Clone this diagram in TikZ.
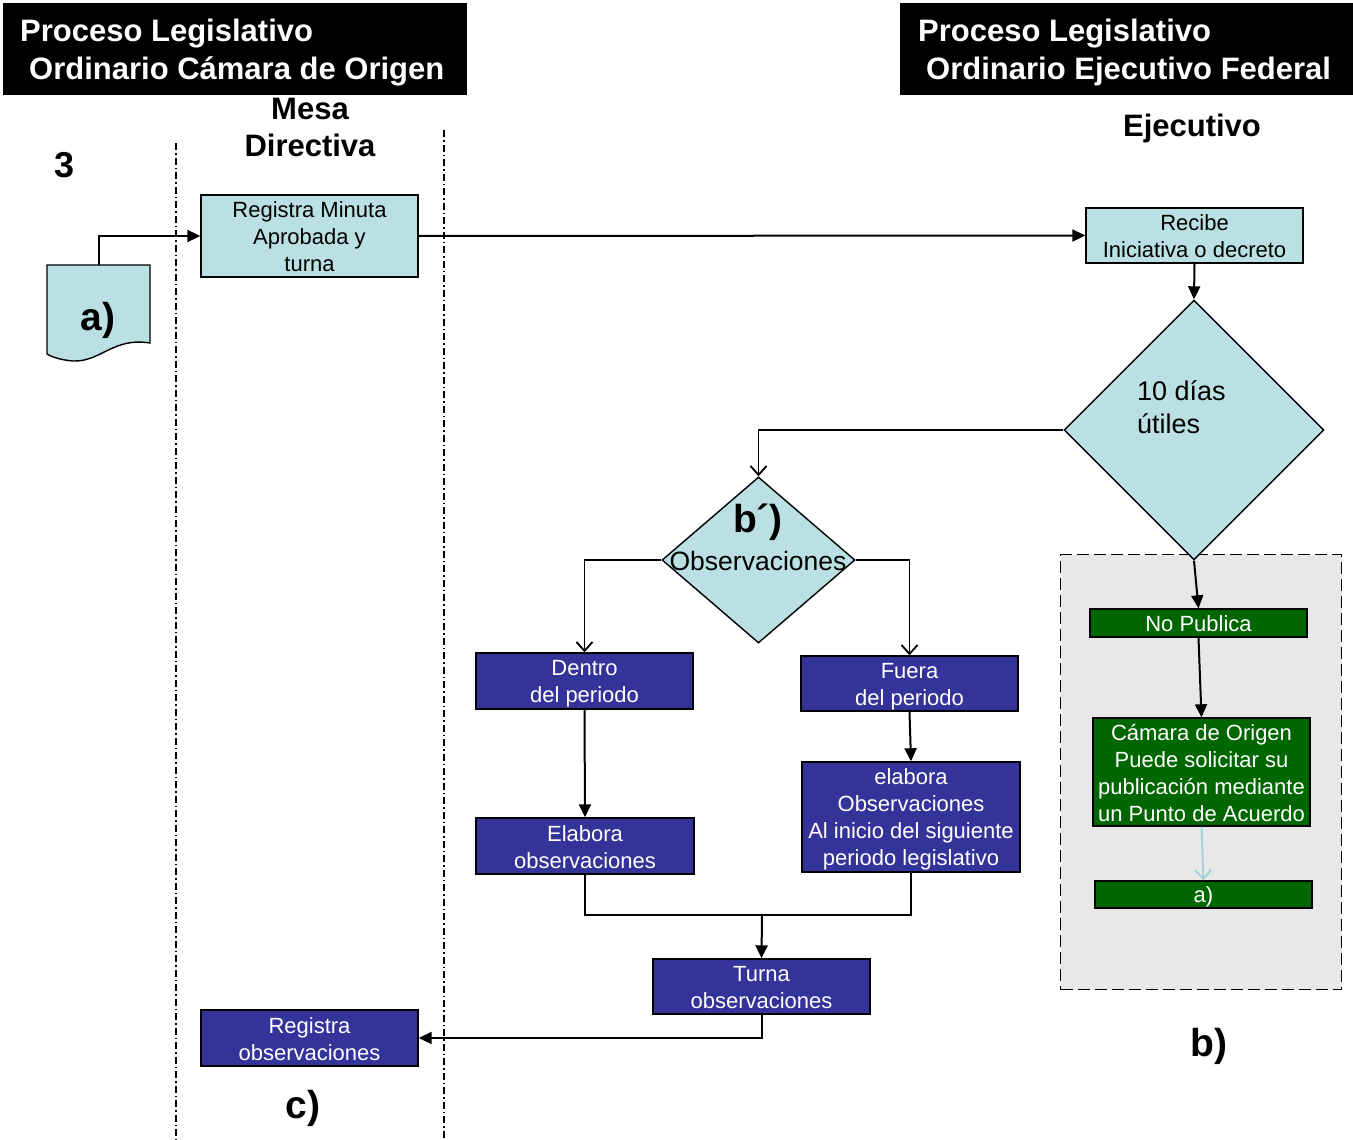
\documentclass[tikz,border=0pt]{standalone}
\usepackage{fontspec}
\setmainfont{Liberation Sans}
\usetikzlibrary{shapes.geometric,arrows.meta}

\definecolor{paleblue}{HTML}{BAE0E4}
\definecolor{paleline}{HTML}{9FD1D8}
\definecolor{navy}{HTML}{333399}
\definecolor{leaf}{HTML}{006600}
\definecolor{panelgray}{HTML}{E8E8E8}

\newcommand\fsz[2]{\fontsize{#1}{#2}\selectfont}
% uniform line strut so that every text line in a box has the same height and depth
\newcommand\lstr{\rule[-4pt]{0pt}{25pt}}

\begin{document}
\begin{tikzpicture}[x=1pt,y=-1pt,
  box/.style={draw=black, line width=1.4pt, minimum width=217pt, inner sep=0pt,
              align=center, font=\fsz{22}{27}},
  lightbox/.style={box, fill=paleblue},
  bluebox/.style={box, fill=navy, text=white},
  greenbox/.style={box, fill=leaf, text=white},
  decision/.style={diamond, draw=black, line width=1.4pt, fill=paleblue, inner sep=0pt},
  flow/.style={line width=2pt, -{Triangle[length=13pt,width=12pt]}},
  openflow/.style={line width=1.8pt, -{Straight Barb[length=9pt,width=16pt]}},
  plain/.style={line width=2pt},
  lane/.style={line width=1.3pt, dash pattern=on 7pt off 3pt on 1.5pt off 3pt},
  hdrbox/.style={fill=black, anchor=north west, inner sep=0pt, minimum height=92pt},
  hdrtext/.style={text=white, font=\bfseries\fsz{31}{38}, anchor=base west, inner sep=0pt},
  title/.style={font=\bfseries\fsz{31}{37}, align=center},
  tag/.style={font=\bfseries\fsz{39}{44}},
]
\useasboundingbox (0,0) rectangle (1353,1140);

% headers
\node[hdrbox, minimum width=464pt] (hdrL) at (3,3) {};
\node[hdrtext] (hdrL1) at (20,42) {Proceso Legislativo};
\node[hdrtext] (hdrL2) at (29,80) {Ordinario Cámara de Origen};
\node[hdrbox, minimum width=453pt] (hdrR) at (900,3) {};
\node[hdrtext] (hdrR1) at (918,42) {Proceso Legislativo};
\node[hdrtext] (hdrR2) at (926,80) {Ordinario Ejecutivo Federal};

\node[title] (mesa) at (310,127) {Mesa\\Directiva};
\node[title] (ejec) at (1192,128) {Ejecutivo};
\node[font=\bfseries\fsz{36}{40}] (num) at (65,165) {3};

% swimlane separators
\coordinate (laneAtop) at (176,143);
\coordinate (laneAbot) at (176,1140);
\coordinate (laneBtop) at (444,130);
\coordinate (laneBbot) at (444,1140);
\draw[lane] (laneAtop) -- (laneAbot);
\draw[lane] (laneBtop) -- (laneBbot);

% grey container for the "No Publica" branch
\node[draw=black, line width=1.4pt, dash pattern=on 12pt off 5pt, fill=panelgray,
      minimum width=281pt, minimum height=435pt, inner sep=0pt, anchor=north west]
  (panel) at (1060,554) {};

% document symbol a)
\node[minimum width=103pt, minimum height=96pt, inner sep=0pt, anchor=north west]
  (docA) at (47,265) {};
\draw[fill=paleblue, line width=1.4pt]
  (47,265) -- (150,265) -- (150,343)
  .. controls (113,337) and (101,362) .. (73,361)
  .. controls (61,360) and (52,357) .. (47,354) -- cycle;
\node[tag] (docAtxt) at (98,320) {a)};

% process boxes
\node[lightbox, minimum height=82pt] (regmin) at (309.5,236)
  {\lstr Registra Minuta\\\lstr Aprobada y\\\lstr turna};
\node[lightbox, minimum height=55pt] (recibe) at (1194.5,235.5)
  {\lstr Recibe\\\lstr Iniciativa o decreto};

\node[decision, minimum width=260pt, minimum height=260pt] (d10) at (1194,430) {};
\node[font=\fsz{27}{33}, align=left, anchor=west, inner sep=0pt] (d10txt) at (1137,407.5) {10 días\\útiles};

\node[decision, minimum width=193pt, minimum height=166pt] (dobs) at (758.5,560) {};
\node[font=\bfseries\fsz{39}{44}] (obstag) at (758,522) {b´)};
\node[font=\fsz{26.5}{30}, inner sep=0pt] (obstxt) at (758,561) {Observaciones};

\node[bluebox, minimum height=56pt] (dentro) at (584.5,681)
  {\lstr Dentro\\\lstr del periodo};
\node[bluebox, minimum height=55pt] (fuera) at (909.5,683.5)
  {\lstr Fuera\\\lstr del periodo};
\node[bluebox, minimum width=218pt, minimum height=56pt] (elab1) at (585,846)
  {\lstr Elabora\\\lstr observaciones};
\node[bluebox, minimum width=218pt, minimum height=110pt] (elab2) at (911,817)
  {\lstr elabora\\\lstr Observaciones\\\lstr Al inicio del siguiente\\\lstr periodo legislativo};
\node[bluebox, minimum height=55pt] (turna) at (761.5,986.5)
  {\lstr Turna\\\lstr observaciones};
\node[bluebox, minimum height=56pt] (regobs) at (309.5,1038)
  {\lstr Registra\\\lstr observaciones};

\node[greenbox, minimum height=28pt] (nopub) at (1198.5,623) {\lstr No Publica};
\node[greenbox, minimum height=108pt] (camara) at (1201.5,772)
  {\lstr Cámara de Origen\\\lstr Puede solicitar su\\\lstr publicación mediante\\\lstr un Punto de Acuerdo};
\node[greenbox, minimum height=27pt] (greena) at (1203.5,894.5) {\lstr a)};

\node[tag] (tagc) at (303,1108) {c)};
\node[tag] (tagb) at (1209,1046) {b)};

% connectors
\draw[flow] (docA.north) |- (regmin.west);
\draw[flow] (regmin.east) -- (recibe.west);
\draw[flow] (recibe.south) -- (d10.north);
\draw[openflow] (d10.west) -| (dobs.north);
\draw[openflow] (dobs.west) -| (dentro.north);
\draw[openflow] (dobs.east) -| (fuera.north);
\draw[flow] (dentro.south) -- (elab1.north);
\draw[flow] (fuera.south) -- (elab2.north);
\coordinate (join) at (762,915);
\draw[plain] (elab1.south) |- (join) -| (elab2.south);
\draw[flow] (join) -- (turna.north);
\draw[flow] (turna.south) |- (regobs.east);
\draw[flow] (d10.south) -- (nopub.north);
\draw[flow] (nopub.south) -- (camara.north);
\draw[openflow, draw=paleline, line width=1.8pt] (camara.south) -- (greena.north);
\end{tikzpicture}
\end{document}
